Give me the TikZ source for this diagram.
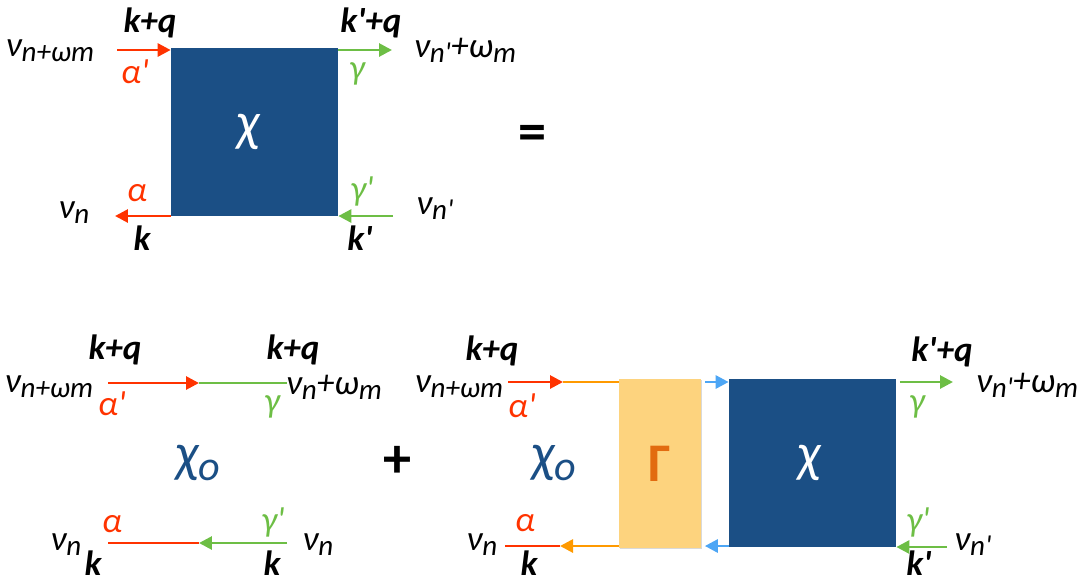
\documentclass[tikz,border=0pt]{standalone}
\usepackage{fontspec}
\setmainfont{Carlito}
\usetikzlibrary{arrows.meta,shadows}
\definecolor{chiblue}{HTML}{1B4F85}
\definecolor{linered}{HTML}{FF3300}
\definecolor{linegreen}{HTML}{6DBE45}
\definecolor{lineorange}{HTML}{FF9A00}
\definecolor{lineblue}{HTML}{4DA6F5}
\definecolor{gamfill}{HTML}{FDD37E}
\definecolor{gamtext}{HTML}{E26B10}
\newcommand{\sbs}[1]{\raisebox{-0.3ex}{\fontsize{16.5}{16.5}\selectfont #1}}
\newcommand{\prm}{\textquotesingle}
\tikzset{lbl/.style={font=\fontsize{20}{22}\selectfont\itshape,inner sep=0pt},
  mom/.style={font=\fontsize{20}{22}\selectfont\bfseries\itshape,inner sep=0pt},
  redlbl/.style={font=\fontsize{20}{22}\selectfont\itshape,inner sep=0pt,text=linered},
  grnlbl/.style={font=\fontsize{20}{22}\selectfont\itshape,inner sep=0pt,text=linegreen},
  chibox/.style={fill=chiblue,minimum width=3.34cm,minimum height=3.36cm,inner sep=0pt,
    text=white,font=\fontsize{31}{33}\selectfont\itshape},
  gambox/.style={fill=gamfill,minimum width=1.64cm,minimum height=3.38cm,inner sep=0pt,
    text=gamtext,font=\fontsize{31}{33}\selectfont\bfseries,
    drop shadow={shadow xshift=0.7pt,shadow yshift=-0.7pt,opacity=0.3}},
  chio/.style={inner sep=0pt,text=chiblue,font=\fontsize{31}{33}\selectfont\itshape},
  tip/.style={-{Triangle[length=2.6mm,width=2.6mm]}},
  redarr/.style={tip,line width=1.6pt,linered},
  grnarr/.style={tip,line width=1.6pt,linegreen},
  orgarr/.style={tip,line width=1.6pt,lineorange},
  bluarr/.style={tip,line width=1.6pt,lineblue},
  redline/.style={line width=1.6pt,linered},
  grnline/.style={line width=1.6pt,linegreen},
  orgline/.style={line width=1.6pt,lineorange}}
\begin{document}
\begin{tikzpicture}[x=0.02cm,y=-0.02cm]
\useasboundingbox (0,0) rectangle (1082,583);
\node[chibox] (chiA) at (254.5,132) {\hspace*{-0.25cm}χ};
\coordinate (a1) at (117,50);
\coordinate (a2) at (115,216);
\coordinate (c1) at (392,50);
\coordinate (c2) at (393,216);
\draw[redarr] (a1) -- (a1 -| chiA.west);
\draw[redarr] (a2 -| chiA.west) -- (a2);
\draw[grnarr] (c1 -| chiA.east) -- (c1);
\draw[grnarr] (c2) -- (c2 -| chiA.east);
\node[mom] (kq1) at (150,23) {k+q};
\node[mom] (kq2) at (371,23) {k\prm+q};
\node[lbl] (nu1) at (50,51) {ν\sbs{n+ωm}};
\node[lbl] (nu2) at (465,50) {ν\sbs{n\prm}+ω\sbs{m}};
\node[redlbl] (al1) at (135,72) {α\prm};
\node[grnlbl] (ga1) at (357,74) {γ};
\node[redlbl] (al2) at (137,193) {α};
\node[lbl] (nu3) at (74,213) {ν\sbs{n}};
\node[mom] (k1) at (142,238) {k};
\node[grnlbl] (ga2) at (362,191) {γ\prm};
\node[lbl] (nu4) at (435,209) {ν\sbs{n\prm}};
\node[mom] (k2) at (360,238) {k\prm};
\node[inner sep=0pt,font=\fontsize{32}{34}\selectfont\bfseries] (eq) at (532,138) {=};
\coordinate (p1) at (108,383);
\coordinate (p2) at (199,383);
\coordinate (p3) at (287,383);
\coordinate (p4) at (108,543);
\coordinate (p5) at (199,543);
\coordinate (p6) at (287,543);
\draw[redarr] (p1) -- (p2);
\draw[grnline] (p2) -- (p3);
\draw[redline] (p4) -- (p5);
\draw[grnarr] (p6) -- (p5);
\node[mom] (kq3) at (115,350) {k+q};
\node[mom] (kq4) at (293,350) {k+q};
\node[lbl] (nu5) at (49,387) {ν\sbs{n+ωm}};
\node[lbl] (nu6) at (334,387) {ν\sbs{n}+ω\sbs{m}};
\node[redlbl] (al3) at (112,404) {α\prm};
\node[grnlbl] (ga3) at (272,407) {γ};
\node[chio] (chio1) at (198,463) {χ\raisebox{-0.35ex}{\fontsize{24}{24}\selectfont o}};
\node[redlbl] (al4) at (112,524) {α};
\node[grnlbl] (ga4) at (273,522) {γ\prm};
\node[lbl] (nu7) at (66,545) {ν\sbs{n}};
\node[mom] (k3) at (93,563) {k};
\node[lbl] (nu8) at (318,545) {ν\sbs{n}};
\node[mom] (k4) at (272,563) {k};
\node[inner sep=0pt,font=\fontsize{32}{34}\selectfont\bfseries] (plus) at (397,462) {+};
\node[gambox] (gam) at (660,463.5) {Γ};
\node[chibox] (chiB) at (812.5,463) {\hspace*{-0.15cm}χ};
\coordinate (r1) at (508,382);
\coordinate (r2) at (563,382);
\coordinate (r3) at (505,546);
\coordinate (r4) at (560,546);
\coordinate (g1) at (953,382);
\coordinate (g2) at (947,547);
\draw[redarr] (r1) -- (r2);
\draw[orgline] (r2) -- (r2 -| gam.west);
\draw[orgarr] (r4 -| gam.west) -- (r4);
\draw[redline] (r4) -- (r3);
\draw[bluarr] ([xshift=2pt]gam.east |- r1) -- (chiB.west |- r1);
\draw[bluarr] (chiB.west |- r3) -- ([xshift=2pt]gam.east |- r3);
\draw[grnarr] ([xshift=2pt]chiB.east |- g1) -- (g1);
\draw[grnarr] (g2) -- (chiB.east |- g2);
\node[mom] (kq5) at (492,351) {k+q};
\node[lbl] (nu9) at (459,387) {ν\sbs{n+ωm}};
\node[redlbl] (al5) at (522,406) {α\prm};
\node[chio] (chio2) at (554,463) {χ\raisebox{-0.35ex}{\fontsize{24}{24}\selectfont o}};
\node[redlbl] (al6) at (525,523) {α};
\node[lbl] (nu10) at (482,545) {ν\sbs{n}};
\node[mom] (k5) at (529,563) {k};
\node[mom] (kq6) at (942,352) {k\prm+q};
\node[lbl] (nu11) at (1027,385) {ν\sbs{n\prm}+ω\sbs{m}};
\node[grnlbl] (ga5) at (917,407) {γ};
\node[grnlbl] (ga6) at (918,522) {γ\prm};
\node[lbl] (nu12) at (973,545) {ν\sbs{n\prm}};
\node[mom] (k6) at (919,563) {k\prm};
\end{tikzpicture}
\end{document}
